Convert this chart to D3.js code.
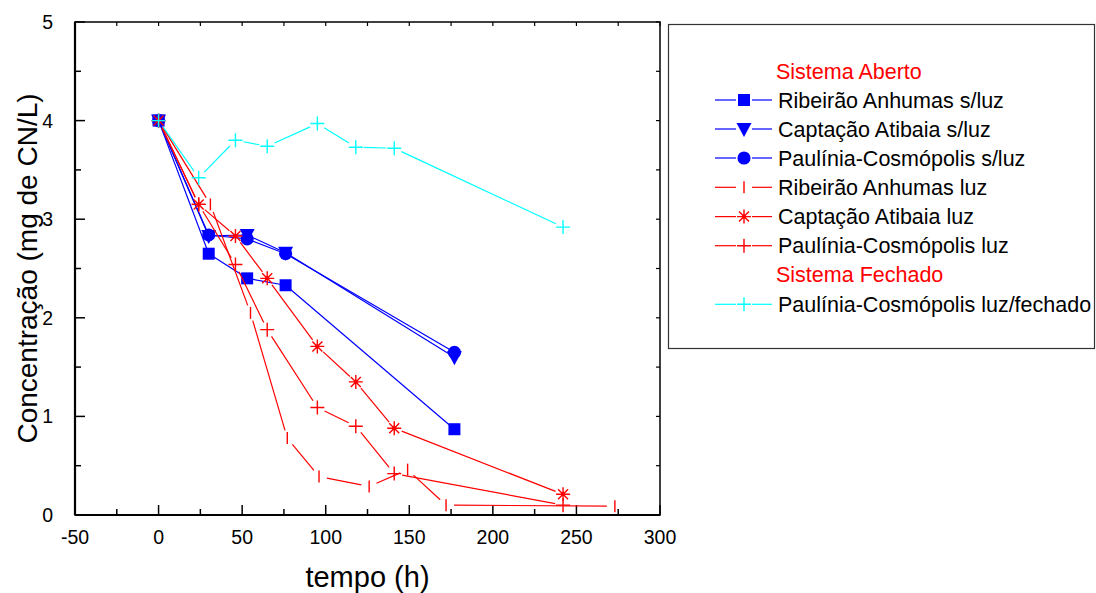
<!DOCTYPE html>
<html>
<head>
<meta charset="utf-8">
<script src="https://cdn.jsdelivr.net/npm/d3@7"></script>
<style>
  html, body { margin: 0; padding: 0; background: #fff; }
  svg { display: block; }
  text { font-family: "Liberation Sans", Arial, sans-serif; }
</style>
</head>
<body>
<svg id="chart" width="1096" height="593"></svg>
<script>
// ---- data ----
const timesSemLuz = [0, 30, 53, 76, 177];
const ribeiraoSemLuz = [4.0, 2.65, 2.40, 2.33, 0.87];
const captacaoSemLuz = [4.0, 2.83, 2.84, 2.66, 1.60];
const pauliniaSemLuz = [4.0, 2.84, 2.80, 2.65, 1.65];

const timesRibeiraoLuz = [0, 31, 55, 77, 96, 126, 149, 172, 273];
const ribeiraoLuz = [4.0, 3.15, 2.05, 0.78, 0.39, 0.29, 0.46, 0.10, 0.09];

const timesLuz = [0, 24, 46, 65, 95, 118, 141, 242];
const captacaoLuz = [4.0, 3.15, 2.83, 2.40, 1.71, 1.35, 0.88, 0.21];
const pauliniaLuz = [4.0, 3.15, 2.54, 1.88, 1.09, 0.90, 0.42, 0.10];
const pauliniaFechado = [4.0, 3.42, 3.80, 3.74, 3.97, 3.73, 3.72, 2.92];

const xTicks = [-50, 0, 50, 100, 150, 200, 250, 300];
const xMinorTicks = [-25, 25, 75, 125, 175, 225, 275];
const yTicks = [0, 1, 2, 3, 4, 5];
const yMinorTicks = [0.5, 1.5, 2.5, 3.5, 4.5];

const seriesNames = [
  "Ribeirão Anhumas s/luz", "Captação Atibaia s/luz", "Paulínia-Cosmópolis s/luz",
  "Ribeirão Anhumas luz", "Captação Atibaia luz", "Paulínia-Cosmópolis luz",
  "Paulínia-Cosmópolis luz/fechado"
];
const groupTitles = ["Sistema Aberto", "Sistema Fechado"];

// ---- setup ----
const svg = d3.select("#chart");
const L = 75, R = 660, T = 22, B = 515;
const x = d3.scaleLinear().domain([-50, 300]).range([L, R]);
const y = d3.scaleLinear().domain([0, 5]).range([B, T]);

const BLUE = "#0000ff", RED = "#ff0000", CYAN = "#00ffff";

const series = [
  {name: seriesNames[0], t: timesSemLuz, v: ribeiraoSemLuz, color: BLUE, marker: "square", gap: 0},
  {name: seriesNames[1], t: timesSemLuz, v: captacaoSemLuz, color: BLUE, marker: "tri", gap: 0},
  {name: seriesNames[2], t: timesSemLuz, v: pauliniaSemLuz, color: BLUE, marker: "circle", gap: 0},
  {name: seriesNames[3], t: timesRibeiraoLuz, v: ribeiraoLuz, color: RED, marker: "bar", gap: 8},
  {name: seriesNames[4], t: timesLuz, v: captacaoLuz, color: RED, marker: "star", gap: 8},
  {name: seriesNames[5], t: timesLuz, v: pauliniaLuz, color: RED, marker: "plus", gap: 8},
  {name: seriesNames[6], t: timesLuz, v: pauliniaFechado, color: CYAN, marker: "plus", gap: 8}
];

function drawMarker(g, type, cx, cy, color) {
  if (type === "square") {
    g.append("path").attr("d", d3.symbol(d3.symbolSquare, 144)())
      .attr("transform", `translate(${cx},${cy})`).attr("fill", color);
  } else if (type === "circle") {
    g.append("path").attr("d", d3.symbol(d3.symbolCircle, 135)())
      .attr("transform", `translate(${cx},${cy})`).attr("fill", color);
  } else if (type === "tri") {
    g.append("path").attr("d", "M-7.5,-6L7.5,-6L0,8Z")
      .attr("transform", `translate(${cx},${cy})`).attr("fill", color);
  } else if (type === "bar") {
    g.append("path").attr("d", "M0,-6V6")
      .attr("transform", `translate(${cx},${cy})`).attr("stroke", color).attr("stroke-width", 1.4).attr("fill", "none");
  } else if (type === "plus") {
    g.append("path").attr("d", "M-7,0H7M0,-7V7")
      .attr("transform", `translate(${cx},${cy})`).attr("stroke", color).attr("stroke-width", 1.4).attr("fill", "none");
  } else if (type === "star") {
    g.append("path").attr("d", "M-7,0H7M0,-7V7M-5,-5L5,5M-5,5L5,-5")
      .attr("transform", `translate(${cx},${cy})`).attr("stroke", color).attr("stroke-width", 1.4).attr("fill", "none");
    g.append("circle").attr("cx", cx).attr("cy", cy).attr("r", 2).attr("fill", color);
  }
}

// ---- frame & axes ----
const axisG = svg.append("g");
xTicks.forEach(t => axisG.append("line").attr("x1", x(t)).attr("x2", x(t)).attr("y1", B).attr("y2", B - 10).attr("stroke", "#000").attr("stroke-width", 1.5));
xMinorTicks.forEach(t => axisG.append("line").attr("x1", x(t)).attr("x2", x(t)).attr("y1", B).attr("y2", B - 6).attr("stroke", "#000").attr("stroke-width", 1.5));
yTicks.forEach(t => axisG.append("line").attr("x1", L).attr("x2", L + 10).attr("y1", y(t)).attr("y2", y(t)).attr("stroke", "#000").attr("stroke-width", 1.5));
yMinorTicks.forEach(t => axisG.append("line").attr("x1", L).attr("x2", L + 6).attr("y1", y(t)).attr("y2", y(t)).attr("stroke", "#000").attr("stroke-width", 1.5));
xTicks.concat(xMinorTicks).forEach(t => axisG.append("line").attr("x1", x(t)).attr("x2", x(t)).attr("y1", T).attr("y2", T + 4).attr("stroke", "#000").attr("stroke-width", 1.2));
yTicks.concat(yMinorTicks).forEach(t => axisG.append("line").attr("x1", R).attr("x2", R - 4).attr("y1", y(t)).attr("y2", y(t)).attr("stroke", "#000").attr("stroke-width", 1.2));

axisG.append("rect").attr("x", L).attr("y", T).attr("width", R - L).attr("height", B - T)
  .attr("fill", "none").attr("stroke", "#000").attr("stroke-width", 1.5);
axisG.append("line").attr("x1", L).attr("x2", L).attr("y1", T).attr("y2", B).attr("stroke", "#000").attr("stroke-width", 2.2);
axisG.append("line").attr("x1", L).attr("x2", R).attr("y1", B).attr("y2", B).attr("stroke", "#000").attr("stroke-width", 2.2);

xTicks.forEach(t => axisG.append("text").attr("x", x(t)).attr("y", 544).attr("text-anchor", "middle")
  .attr("font-size", 19.5).text(t));
yTicks.forEach(t => axisG.append("text").attr("x", 53).attr("y", y(t) + 7).attr("text-anchor", "end")
  .attr("font-size", 19.5).text(t));

svg.append("text").attr("x", (L + R) / 2).attr("y", 587).attr("text-anchor", "middle")
  .attr("font-size", 29).text("tempo (h)");
svg.append("text").attr("transform", `translate(37,${(T + B) / 2}) rotate(-90)`).attr("text-anchor", "middle")
  .attr("font-size", 28).text("Concentração (mg de CN/L)");

// ---- series ----
const plotG = svg.append("g");
series.forEach(s => {
  const pts = s.t.map((t, i) => [x(t), y(s.v[i])]);
  const lg = plotG.append("g");
  for (let i = 0; i < pts.length - 1; i++) {
    const [x1, y1] = pts[i], [x2, y2] = pts[i + 1];
    const dx = x2 - x1, dy = y2 - y1, len = Math.hypot(dx, dy);
    if (len <= 2 * s.gap) continue;
    const ux = dx / len, uy = dy / len;
    lg.append("line")
      .attr("x1", x1 + ux * s.gap).attr("y1", y1 + uy * s.gap)
      .attr("x2", x2 - ux * s.gap).attr("y2", y2 - uy * s.gap)
      .attr("stroke", s.color).attr("stroke-width", 1.2);
  }
  const mg = plotG.append("g");
  pts.forEach(p => drawMarker(mg, s.marker, p[0], p[1], s.color));
});

// ---- legend ----
const leg = svg.append("g");
leg.append("rect").attr("x", 668.5).attr("y", 24.5).attr("width", 426).attr("height", 324)
  .attr("fill", "#fff").attr("stroke", "#333").attr("stroke-width", 1.2);
const rowY = [100, 129, 158, 187.3, 216.6, 245.7, 304.3];
leg.append("text").attr("x", 776).attr("y", 78.5).attr("font-size", 21.5).attr("fill", RED).text(groupTitles[0]);
leg.append("text").attr("x", 776).attr("y", 282).attr("font-size", 21.5).attr("fill", RED).text(groupTitles[1]);
series.forEach((s, i) => {
  const cy = rowY[i];
  leg.append("line").attr("x1", 715).attr("x2", 736).attr("y1", cy).attr("y2", cy).attr("stroke", s.color).attr("stroke-width", 1.2);
  leg.append("line").attr("x1", 752).attr("x2", 772).attr("y1", cy).attr("y2", cy).attr("stroke", s.color).attr("stroke-width", 1.2);
  drawMarker(leg, s.marker, 744, cy, s.color);
  leg.append("text").attr("x", 778).attr("y", cy + 7.5).attr("font-size", 21.5).attr("fill", "#000").text(s.name);
});
</script>
</body>
</html>
